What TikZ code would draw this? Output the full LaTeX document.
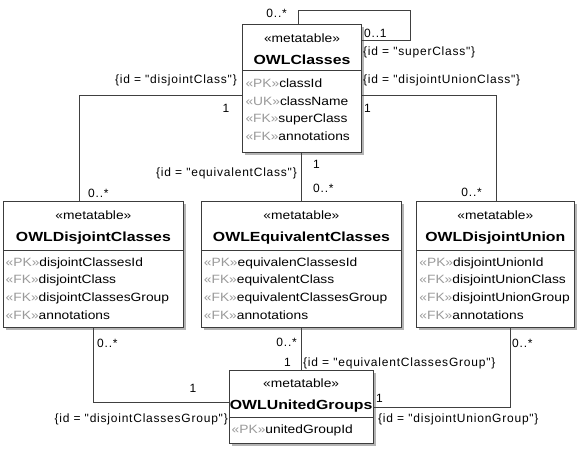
\documentclass[tikz,border=0pt]{standalone}
\usepackage{fontspec}
\setmainfont{Liberation Sans}
\newfontfamily\boxfont[FakeStretch=1.15]{Liberation Sans}
\newfontfamily\namefont[FakeStretch=1.2]{Liberation Sans}
\newfontfamily\lblfont[LetterSpace=6.5]{Liberation Sans}
\usetikzlibrary{shadows}
\definecolor{boxcol}{HTML}{3C3C3C}
\definecolor{conncol}{HTML}{404040}
\definecolor{shadowcol}{HTML}{B4B4B4}
\definecolor{stgray}{HTML}{9A9A9A}
\newcommand{\st}[1]{{\color{stgray}«#1»}}
\tikzset{
  umlbox/.style={draw=boxcol, line width=0.9pt, fill=white, inner sep=0pt, outer sep=0pt,
    anchor=north west, drop shadow={shadow xshift=2.5pt, shadow yshift=-2.5pt, fill=shadowcol, opacity=1}},
  divline/.style={draw=boxcol, line width=0.9pt},
  stereo/.style={font=\boxfont\fontsize{12}{14}\selectfont, inner sep=0pt, text height=8.6pt, text depth=0pt},
  attr/.style={stereo, anchor=west},
  tname/.style={font=\namefont\bfseries\fontsize{13.2}{15}\selectfont, inner sep=0pt, text height=9.45pt, text depth=0pt},
  lbl/.style={font=\lblfont\fontsize{12}{14}\selectfont, inner sep=0pt, text height=8.6pt, text depth=0pt},
  conn/.style={draw=conncol, line width=0.9pt},
}
\begin{document}
\begin{tikzpicture}[x=1pt,y=-1pt]
\useasboundingbox (0,0) rectangle (577,448);

% ---------- boxes ----------
\node[umlbox, minimum width=119.4pt, minimum height=128.7pt] (cls) at (242.3,24) {};
\node[umlbox, minimum width=179.8pt, minimum height=125.3pt] (dc) at (3.5,201.7) {};
\node[umlbox, minimum width=200.5pt, minimum height=125.3pt] (ec) at (201.2,201.7) {};
\node[umlbox, minimum width=157.3pt, minimum height=125.3pt] (du) at (416.7,201.7) {};
\node[umlbox, minimum width=144.3pt, minimum height=73.3pt] (ug) at (229,370) {};

% dividers
\draw[divline] ([yshift=-46.7pt]cls.north west) -- ([yshift=-46.7pt]cls.north east);
\draw[divline] ([yshift=-48.3pt]dc.north west) -- ([yshift=-48.3pt]dc.north east);
\draw[divline] ([yshift=-48.3pt]ec.north west) -- ([yshift=-48.3pt]ec.north east);
\draw[divline] ([yshift=-48.3pt]du.north west) -- ([yshift=-48.3pt]du.north east);
\draw[divline] ([yshift=-47.3pt]ug.north west) -- ([yshift=-47.3pt]ug.north east);

% OWLClasses
\node[stereo] (cls-s) at ([yshift=-14.3pt]cls.north) {«metatable»};
\node[tname] (cls-n) at ([yshift=-35.3pt]cls.north) {OWLClasses};
\node[attr] (cls-a1) at ([xshift=3pt,yshift=-59.3pt]cls.north west) {\st{PK}classId};
\node[attr] (cls-a2) at ([xshift=3pt,yshift=-76.8pt]cls.north west) {\st{UK}className};
\node[attr] (cls-a3) at ([xshift=3pt,yshift=-94.3pt]cls.north west) {\st{FK}superClass};
\node[attr] (cls-a4) at ([xshift=3pt,yshift=-111.8pt]cls.north west) {\st{FK}annotations};

% OWLDisjointClasses
\node[stereo] (dc-s) at ([yshift=-13.3pt]dc.north) {«metatable»};
\node[tname] (dc-n) at ([yshift=-35.3pt]dc.north) {OWLDisjointClasses};
\node[attr] (dc-a1) at ([xshift=2pt,yshift=-60.3pt]dc.north west) {\st{PK}disjointClassesId};
\node[attr] (dc-a2) at ([xshift=2pt,yshift=-77.9pt]dc.north west) {\st{FK}disjointClass};
\node[attr] (dc-a3) at ([xshift=2pt,yshift=-95.5pt]dc.north west) {\st{FK}disjointClassesGroup};
\node[attr] (dc-a4) at ([xshift=2pt,yshift=-113.1pt]dc.north west) {\st{FK}annotations};

% OWLEquivalentClasses
\node[stereo] (ec-s) at ([yshift=-13.3pt]ec.north) {«metatable»};
\node[tname] (ec-n) at ([yshift=-35.3pt]ec.north) {OWLEquivalentClasses};
\node[attr] (ec-a1) at ([xshift=2.5pt,yshift=-60.3pt]ec.north west) {\st{PK}equivalenClassesId};
\node[attr] (ec-a2) at ([xshift=2.5pt,yshift=-77.9pt]ec.north west) {\st{FK}equivalentClass};
\node[attr] (ec-a3) at ([xshift=2.5pt,yshift=-95.5pt]ec.north west) {\st{FK}equivalentClassesGroup};
\node[attr] (ec-a4) at ([xshift=2.5pt,yshift=-113.1pt]ec.north west) {\st{FK}annotations};

% OWLDisjointUnion
\node[stereo] (du-s) at ([yshift=-13.3pt]du.north) {«metatable»};
\node[tname] (du-n) at ([yshift=-35.3pt]du.north) {OWLDisjointUnion};
\node[attr] (du-a1) at ([xshift=2.5pt,yshift=-60.3pt]du.north west) {\st{PK}disjointUnionId};
\node[attr] (du-a2) at ([xshift=2.5pt,yshift=-77.9pt]du.north west) {\st{FK}disjointUnionClass};
\node[attr] (du-a3) at ([xshift=2.5pt,yshift=-95.5pt]du.north west) {\st{FK}disjointUnionGroup};
\node[attr] (du-a4) at ([xshift=2.5pt,yshift=-113.1pt]du.north west) {\st{FK}annotations};

% OWLUnitedGroups
\node[stereo] (ug-s) at ([yshift=-13.3pt]ug.north) {«metatable»};
\node[tname] (ug-n) at ([yshift=-35pt]ug.north) {OWLUnitedGroups};
\node[attr] (ug-a1) at ([xshift=2.5pt,yshift=-59.3pt]ug.north west) {\st{PK}unitedGroupId};

% ---------- connectors ----------
\coordinate (loopc) at (410,10.7);
\draw[conn] ([xshift=56pt]cls.north west) |- (loopc) |- ([yshift=-16pt]cls.north east);
\draw[conn] ([yshift=-71pt]cls.north west) -| ([xshift=75.8pt]dc.north west);
\draw[conn] ([yshift=-71pt]cls.north east) -| ([xshift=80pt]du.north west);
\draw[conn] (ec.north |- cls.south) -- (ec.north);
\draw[conn] (dc.south) |- ([yshift=-32.7pt]ug.north west);
\draw[conn] (ec.south) -- (ug.north -| ec.south);
\draw[conn] ([xshift=93.3pt]du.south west) |- ([yshift=-37.3pt]ug.north east);

% ---------- labels ----------
\node[lbl, anchor=east] (l1) at (287,13) {0..*};
\node[lbl, anchor=west] (l2) at (364,33) {0..1};
\node[lbl, anchor=west] (l3) at (363,51) {\{id = "superClass"\}};
\node[lbl, anchor=west] (l4) at (363,79) {\{id = "disjointUnionClass"\}};
\node[lbl, anchor=east] (l5) at (237,79) {\{id = "disjointClass"\}};
\node[lbl] (l6) at (226,108) {1};
\node[lbl, anchor=west] (l7) at (88,193) {0..*};
\node[lbl, anchor=west] (l8) at (364,108) {1};
\node[lbl, anchor=east] (l9) at (482,192) {0..*};
\node[lbl, anchor=west] (l10) at (313,164) {1};
\node[lbl, anchor=west] (l11) at (313,188) {0..*};
\node[lbl, anchor=east] (l12) at (297,172) {\{id = "equivalentClass"\}};
\node[lbl, anchor=west] (l13) at (97,342.7) {0..*};
\node[lbl] (l14) at (193,388) {1};
\node[lbl, anchor=east] (l15) at (228,418) {\{id = "disjointClassesGroup"\}};
\node[lbl, anchor=east] (l16) at (297,341.7) {0..*};
\node[lbl, anchor=east] (l17) at (291,362) {1};
\node[lbl, anchor=west] (l18) at (303,362) {\{id = "equivalentClassesGroup"\}};
\node[lbl, anchor=west] (l19) at (512,343) {0..*};
\node[lbl, anchor=west] (l20) at (376,398) {1};
\node[lbl, anchor=west] (l21) at (378,418) {\{id = "disjointUnionGroup"\}};
\end{tikzpicture}
\end{document}
